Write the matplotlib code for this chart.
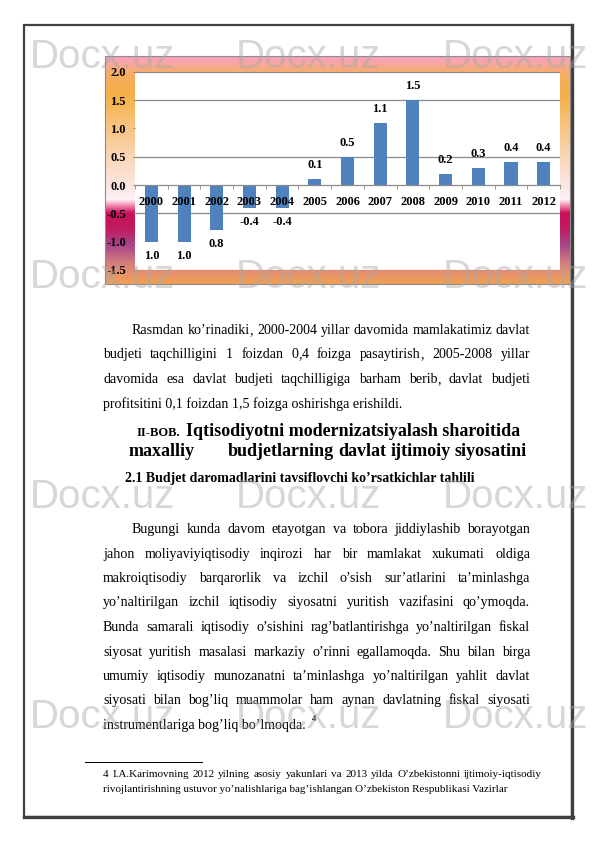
import matplotlib
matplotlib.use("Agg")
import re
import matplotlib.pyplot as plt
import numpy as np
from matplotlib.colors import LinearSegmentedColormap
from matplotlib.patches import Rectangle

plt.rcParams['axes.unicode_minus'] = False
plt.rcParams['font.family'] = 'Liberation Serif'

# chart data (budjet taqchilligi / profitsiti, %)
years = ['2000', '2001', '2002', '2003', '2004', '2005', '2006',
         '2007', '2008', '2009', '2010', '2011', '2012']
values = [-1.0, -1.0, -0.8, -0.4, -0.4, 0.1, 0.5, 1.1, 1.5, 0.2, 0.3, 0.4, 0.4]
value_labels = ['1.0', '1.0', '0.8', '-0.4', '-0.4', '0.1', '0.5',
                '1.1', '1.5', '0.2', '0.3', '0.4', '0.4']
y_ticks = [-1.5, -1.0, -0.5, 0.0, 0.5, 1.0, 1.5, 2.0]
grid_levels = [-1.5, -0.5, 0.5, 1.5, 2.0]

para1 = [
    "Rasmdan ko’rinadiki, 2000-2004 yillar davomida mamlakatimiz davlat",
    "budjeti taqchilligini 1 foizdan 0,4 foizga pasaytirish, 2005-2008 yillar",
    "davomida esa davlat budjeti taqchilligiga barham berib, davlat budjeti",
    "profitsitini 0,1 foizdan 1,5 foizga oshirishga erishildi.",
]
para2 = [
    "Bugungi kunda davom etayotgan va tobora jiddiylashib borayotgan",
    "jahon moliyaviyiqtisodiy inqirozi har bir mamlakat xukumati oldiga",
    "makroiqtisodiy barqarorlik va izchil o’sish sur’atlarini ta’minlashga",
    "yo’naltirilgan izchil iqtisodiy siyosatni yuritish vazifasini qo’ymoqda.",
    "Bunda samarali iqtisodiy o’sishini rag’batlantirishga yo’naltirilgan fiskal",
    "siyosat yuritish masalasi markaziy o’rinni egallamoqda. Shu bilan birga",
    "umumiy iqtisodiy munozanatni ta’minlashga yo’naltirilgan yahlit davlat",
    "siyosati bilan bog’liq muammolar ham aynan davlatning fiskal siyosati",
    "instrumentlariga bog’liq bo’lmoqda.",
]
footnote = [
    "4 I.A.Karimovning 2012 yilning asosiy yakunlari va 2013 yilda O’zbekistonni ijtimoiy-iqtisodiy",
    "rivojlantirishning ustuvor yo’nalishlariga bag’ishlangan O’zbekiston Respublikasi Vazirlar",
]

W, H = 595, 842
fig = plt.figure(figsize=(W / 100, H / 100), dpi=100)
fig.patch.set_facecolor('white')

# page axes in pixel units
page = fig.add_axes([0, 0, 1, 1])
page.set_xlim(0, W)
page.set_ylim(H, 0)
page.axis('off')
renderer = fig.canvas.get_renderer()

# page border
page.add_patch(Rectangle((24, 25), 548, 792, fill=False, ec='#3f3f3f', lw=1.6))
page.plot([572, 572], [25, 818], color='#3f3f3f', lw=2.4)
page.plot([24, 573], [817, 817], color='#3f3f3f', lw=2.4)

# chart frame with gradient fill
stops = [(0.00, '#F9A0C4'), (0.03, '#F8A8A0'), (0.08, '#F6AE60'), (0.17, '#F5B048'),
         (0.32, '#F8C584'), (0.46, '#FAD9BE'), (0.57, '#FCE6E2'), (0.63, '#FEF2F5'),
         (0.66, '#F07AA8'), (0.69, '#C8105A'), (0.76, '#C01C60'), (0.83, '#A8448A'),
         (0.90, '#D07880'), (0.96, '#E8946A'), (1.00, '#F0A050')]
cmap = LinearSegmentedColormap.from_list('frame', stops)
grad = np.linspace(0, 1, 256).reshape(-1, 1)
page.imshow(grad, cmap=cmap, aspect='auto', extent=[105, 570, 284, 56],
            interpolation='bilinear', zorder=1)
page.add_patch(Rectangle((105, 56), 465, 228, fill=False, ec='#8c8c8c', lw=0.8, zorder=2))

# chart
x0, x1, ytop, ybot = 135, 560, 71.7, 270
ax = fig.add_axes([x0 / W, 1 - ybot / H, (x1 - x0) / W, (ybot - ytop) / H])
ax.set_zorder(2)
ax.set_facecolor('white')
pos = np.arange(len(years))
for lv in grid_levels:
    ax.axhline(lv, color='#8a8a8a', lw=0.9, zorder=0.5)
ax.bar(pos, values, width=0.4, color='#4F81BD', zorder=1)
ax.set_xlim(-0.5, len(years) - 0.5)
ax.set_ylim(-1.5, 2.0)
for s in ['top', 'right', 'left']:
    ax.spines[s].set_visible(False)
ax.spines['bottom'].set_position(('data', 0))
ax.spines['bottom'].set_color('#8a8a8a')
ax.spines['bottom'].set_linewidth(0.9)
ax.set_xticks(pos)
ax.set_xticklabels(years, fontsize=9, fontweight='bold')
ax.set_xticks(np.arange(-0.5, len(years)), minor=True)
ax.tick_params(axis='x', which='major', length=0, pad=8)
ax.tick_params(axis='x', which='minor', length=3, color='#8a8a8a', direction='out')
ax.set_yticks(y_ticks)
ax.set_yticklabels([f"{t:.1f}" for t in y_ticks], fontsize=9, fontweight='bold')
ax.tick_params(axis='y', length=1.5, color='#8a8a8a', pad=5)
for i, (v, lbl) in enumerate(zip(values, value_labels)):
    off = 10 if v >= 0 else -10
    ax.annotate(lbl, (i, v), xytext=(0, off), textcoords='offset points',
                ha='center', va='center', fontsize=9, fontweight='bold', zorder=3)


def width_of(s, **kw):
    t = page.text(0, 0, s, **kw)
    w = t.get_window_extent(renderer).width
    t.remove()
    return w


def fit_size(s, target, base=10, **kw):
    return base * target / width_of(s, fontsize=base, **kw)


def base_y(y):
    # just under half a pixel: words with and without descenders share a row
    return round(y) + 0.48


def put_line(s, xa, xb, y, size, justify=True, **kw):
    y = base_y(y)
    words = s.split(' ')
    if not justify or len(words) < 2:
        page.text(xa, y, s, fontsize=size, va='baseline', **kw)
        return
    # commas go in their own text objects, otherwise Agg lifts the word
    pieces, widths = [], []
    for w in words:
        parts = [p for p in re.split(r'(,)', w) if p]
        objs = [page.text(0, y, p, fontsize=size, va='baseline', **kw) for p in parts]
        ws = [o.get_window_extent(renderer).width for o in objs]
        pieces.append(list(zip(objs, ws)))
        widths.append(sum(ws))
    gap = (xb - xa - sum(widths)) / (len(words) - 1)
    x = xa
    for parts, w in zip(pieces, widths):
        px = x
        for o, pw in parts:
            o.set_x(px)
            px += pw
        x += w + gap


body = fit_size(para1[3], 300)
left, right, indent = 103, 530, 132

ys = [334, 358.5, 383, 407.5]
for k, line in enumerate(para1):
    put_line(line, indent if k == 0 else left, right, ys[k], body,
             justify=(k < len(para1) - 1))

# headings
page.text(137, base_y(436.5), "II-BOB.", fontsize=9, fontweight='bold', va='baseline')
h_size = fit_size("Iqtisodiyotni modernizatsiyalash sharoitida", 336, fontweight='bold')
page.text(186, base_y(436.5), "Iqtisodiyotni modernizatsiyalash sharoitida",
          fontsize=h_size, fontweight='bold', va='baseline')
page.text(129, base_y(456), "maxalliy", fontsize=h_size, fontweight='bold', va='baseline')
put_line("budjetlarning davlat ijtimoiy siyosatini", 228, 527, 456, h_size,
         fontweight='bold')
sub = "2.1 Budjet daromadlarini tavsiflovchi ko’rsatkichlar tahlili"
page.text(125, base_y(482), sub, fontsize=fit_size(sub, 351, fontweight='bold'),
          fontweight='bold', va='baseline')

ys2 = [533 + 24.5 * k for k in range(len(para2))]
for k, line in enumerate(para2):
    put_line(line, indent if k == 0 else left, right, ys2[k], body,
             justify=(k < len(para2) - 1))
end_x = left + width_of(para2[-1], fontsize=body)
page.text(end_x + 6, base_y(721), "4", fontsize=body * 0.6, fontweight='bold',
          va='baseline')

# footnote
page.plot([85, 202], [762, 762], color='black', lw=0.7)
fn = fit_size(footnote[1], 404)
put_line(footnote[0], 103, 542, 777, fn)
put_line(footnote[1], 103, 542, 792, fn, justify=False)

# watermark
for yb in [68, 288, 508, 728]:
    for xs in [30, 236, 443]:
        fig.text(xs / W, 1 - yb / H, "Docx.uz", fontsize=29, color='#a8a8a8',
                 alpha=0.45, family='Liberation Sans', va='baseline', zorder=10)

fig.savefig('out.png', dpi=100)
